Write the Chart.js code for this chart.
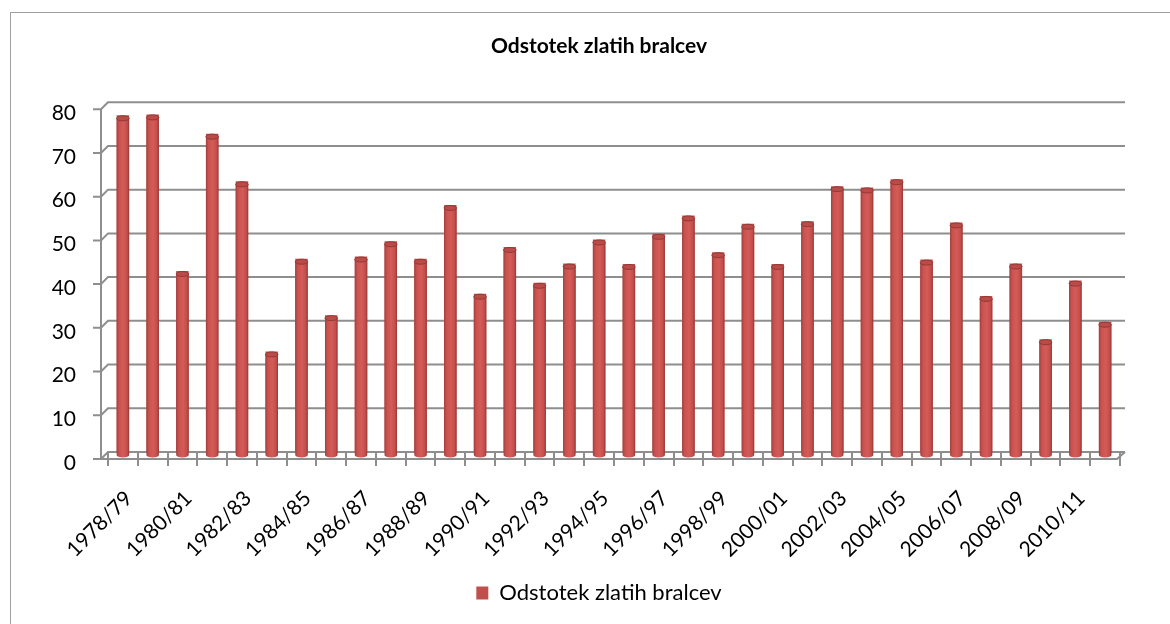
<!DOCTYPE html>
<html><head><meta charset="utf-8">
<script src="https://cdn.jsdelivr.net/npm/chart.js@4/dist/chart.umd.min.js"></script>
<style>
html,body{margin:0;padding:0;background:#fff;width:1170px;height:624px;overflow:hidden}
#frame{position:absolute;left:10px;top:12px;width:1200px;height:700px;border-left:1px solid #a0a0a0;border-top:1px solid #a0a0a0}
#wrap{position:absolute;left:0;top:0;width:1170px;height:624px}
</style></head>
<body>
<div id="frame"></div>
<div id="wrap"><canvas id="c" width="1170" height="624"></canvas></div>
<script>
const categories = ["1978/79","1979/80","1980/81","1981/82","1982/83","1983/84","1984/85","1985/86","1986/87","1987/88","1988/89","1989/90","1990/91","1991/92","1992/93","1993/94","1994/95","1995/96","1996/97","1997/98","1998/99","1999/00","2000/01","2001/02","2002/03","2003/04","2004/05","2005/06","2006/07","2007/08","2008/09","2009/10","2010/11","2011/12"];
const values = [77,77.2,41.4,72.8,61.9,23,44.2,31.3,44.7,48.2,44.2,56.5,36.2,46.9,38.7,43.1,48.6,43,49.9,54.1,45.7,52.2,43,52.8,60.8,60.5,62.4,44,52.5,35.7,43.1,25.8,39.2,29.8];
const seriesName = "Odstotek zlatih bralcev";
const yTicks = [0,10,20,30,40,50,60,70,80];

const FONT = "Lato, 'Open Sans', sans-serif";
const GRID = "#8e8e8e";
const MID = 3; // bars sit halfway into the floor depth

const cylinder = {
  id: 'cylinder',
  afterDatasetsDraw(chart) {
    const ctx = chart.ctx;
    ctx.save();
    chart.getDatasetMeta(0).data.forEach(el => {
      const w = el.width, l = el.x - w/2;
      const top = el.y + MID, base = el.base + MID;
      const g = ctx.createLinearGradient(l, 0, l + w, 0);
      g.addColorStop(0, '#a33f3d');
      g.addColorStop(0.2, '#c9524f');
      g.addColorStop(0.55, '#d45b58');
      g.addColorStop(0.85, '#c24e4b');
      g.addColorStop(1, '#933634');
      ctx.fillStyle = g;
      ctx.fillRect(l, top, w, base - top);
      ctx.beginPath();
      ctx.ellipse(el.x, base, w/2, 2.5, 0, 0, Math.PI);
      ctx.fill();
      ctx.beginPath();
      ctx.ellipse(el.x, top, w/2, 2.5, 0, 0, Math.PI*2);
      ctx.fillStyle = '#bb4b48';
      ctx.fill();
      ctx.strokeStyle = '#923936';
      ctx.lineWidth = 1;
      ctx.stroke();
    });
    ctx.restore();
  }
};

const depth = {
  id: 'depth',
  afterLayout(chart) {
    const s = 16;
    [chart.legend, chart.titleBlock].forEach(b => { if (b) { b.left += s; b.right += s; } });
  },
  beforeDatasetsDraw(chart) {
    const ctx = chart.ctx;
    const y = chart.scales.y;
    const a = chart.chartArea;
    const dx = 7, dy = 7;
    ctx.save();
    ctx.strokeStyle = GRID;
    ctx.lineWidth = 2;
    y.ticks.forEach(t => {
      const py = y.getPixelForValue(t.value);
      ctx.beginPath();
      ctx.moveTo(a.left - dx - 8, py + dy);
      ctx.lineTo(a.left - dx, py + dy);
      ctx.lineTo(a.left, py);
      ctx.lineTo(a.right + 5, py);
      ctx.stroke();
    });
    ctx.beginPath();
    ctx.moveTo(a.left - dx, a.top + dy);
    ctx.lineTo(a.left - dx, a.bottom + dy);
    ctx.stroke();
    ctx.beginPath();
    ctx.moveTo(a.left - dx, a.bottom + dy);
    ctx.lineTo(a.right - 3, a.bottom + dy);
    ctx.lineTo(a.right + 5, a.bottom);
    ctx.stroke();
    ctx.restore();
  }
};

new Chart(document.getElementById('c'), {
  type: 'bar',
  data: {
    labels: categories,
    datasets: [{
      label: seriesName,
      data: values,
      backgroundColor: '#c0504d',
      borderWidth: 0,
      barPercentage: 0.42,
      categoryPercentage: 1
    }]
  },
  options: {
    responsive: false,
    animation: false,
    layout: { padding: { left: 46, right: 50, top: 0, bottom: 10 } },
    plugins: {
      title: {
        display: true, text: seriesName, color: '#000',
        font: { family: FONT, size: 21, weight: 'bold' },
        padding: { top: 34, bottom: 43 }
      },
      legend: {
        position: 'bottom',
        labels: {
          color: '#000', boxWidth: 12, boxHeight: 13, padding: 10,
          font: { family: FONT, size: 22 },
          generateLabels: ch => [{ text: seriesName, fillStyle: '#c0504d', strokeStyle: '#c0504d', lineWidth: 0, datasetIndex: 0, fontColor: '#000' }]
        }
      },
      tooltip: { enabled: false }
    },
    scales: {
      x: {
        afterFit: s => { s.height = 120; },
        grid: { display: true, drawOnChartArea: false, drawTicks: true, tickLength: 14, offset: true, color: GRID, lineWidth: 2 },
        border: { display: false },
        ticks: {
          autoSkip: false, maxRotation: 45, minRotation: 45, color: '#000', padding: 20, labelOffset: 6,
          font: { family: FONT, size: 21 },
          callback: (v, i) => (i % 2 === 0 ? categories[i] : '')
        }
      },
      y: {
        min: 0, max: 80,
        afterFit: s => { s.width = 62; },
        afterBuildTicks: s => { s.ticks = yTicks.map(v => ({ value: v })); },
        grid: { display: false, drawTicks: false },
        border: { display: false },
        ticks: { color: '#000', padding: 32, labelOffset: 11, font: { family: FONT, size: 21 } }
      }
    }
  },
  plugins: [depth, cylinder]
});
</script>
</body></html>
